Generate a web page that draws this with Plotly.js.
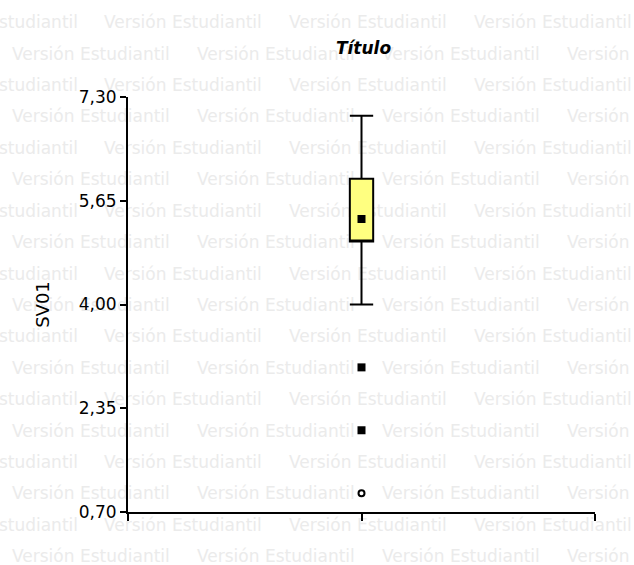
<!DOCTYPE html>
<html>
<head>
<meta charset="utf-8">
<script src="https://cdn.plot.ly/plotly-3.0.1.min.js"></script>
<style>html,body{margin:0;padding:0;background:#fff;}#chart{width:634px;height:565px;}</style>
</head>
<body>
<div id="chart"></div>
<script>
// ---- data ----
const variableName = "SV01";
const boxX = [1];
const q1 = [5.0];
const median = [5.0];
const q3 = [6.0];
const lowerFence = [4.0];
const upperFence = [7.0];
const meanValue = [5.36];
const outlierValues = [3.0, 2.0];
const extremeValues = [1.0];
const yTickVals = [0.70, 2.35, 4.00, 5.65, 7.30];
const xTickVals = [0, 1, 2];
const watermarkText = "Versión Estudiantil";

// ---- watermark (decoration, pixel grid of the whole page) ----
const W = 634, H = 565;
const wmWidth = 159;
const wmX = [], wmY = [], wmT = [], wmPos = [];
for (let r = 0; r < 18; r++) {
  const py = 24 + 31.41 * r;
  const start = (r % 2 === 0) ? -81 : 12;
  for (let c = 0; c < 5; c++) {
    const px = start + 185 * c;
    if (px > W) continue;
    if (px < 0) { wmX.push(px + wmWidth); wmPos.push('middle left'); }
    else { wmX.push(px); wmPos.push('middle right'); }
    wmY.push(Math.min(py, H - 1)); wmT.push(watermarkText);
  }
}

const traces = [
  {
    type: 'scatter', mode: 'text', x: wmX, y: wmY, text: wmT,
    textposition: wmPos, cliponaxis: false, hoverinfo: 'skip',
    textfont: {family: 'DejaVu Sans', size: 17, color: '#ebebeb'},
    xaxis: 'x', yaxis: 'y', showlegend: false
  },
  {
    type: 'box', x: boxX, q1: q1, median: median, q3: q3,
    lowerfence: lowerFence, upperfence: upperFence,
    width: 0.1, whiskerwidth: 1,
    fillcolor: '#ffff80', line: {color: '#000000', width: 2},
    xaxis: 'x2', yaxis: 'y2', showlegend: false, hoverinfo: 'skip'
  },
  {
    type: 'scatter', mode: 'markers', x: boxX, y: meanValue,
    marker: {symbol: 'square', size: 8, color: '#000000'},
    xaxis: 'x2', yaxis: 'y2', showlegend: false, cliponaxis: false
  },
  {
    type: 'scatter', mode: 'markers', x: outlierValues.map(() => boxX[0]), y: outlierValues,
    marker: {symbol: 'square', size: 8, color: '#000000'},
    xaxis: 'x2', yaxis: 'y2', showlegend: false, cliponaxis: false
  },
  {
    type: 'scatter', mode: 'markers', x: extremeValues.map(() => boxX[0]), y: extremeValues,
    marker: {symbol: 'circle-open', size: 6, color: '#000000', line: {width: 2, color: '#000000'}},
    xaxis: 'x2', yaxis: 'y2', showlegend: false, cliponaxis: false
  }
];

const plotL = 128, plotR = 595, plotT = 97, plotB = 512;
const layout = {
  width: W, height: H,
  margin: {l: 0, r: 0, t: 0, b: 0, pad: 0},
  paper_bgcolor: '#ffffff', plot_bgcolor: 'rgba(0,0,0,0)',
  separators: ',.',
  font: {family: 'DejaVu Sans', color: '#000000'},
  title: {
    text: '<b><i>Título</i></b>',
    font: {family: 'DejaVu Sans', size: 17, color: '#000000'},
    x: ((plotL + plotR) / 2 + 2) / W, xref: 'paper', xanchor: 'center',
    y: 1 - 48 / H, yref: 'container', yanchor: 'middle'
  },
  xaxis: {domain: [0, 1], range: [0, W], visible: false, fixedrange: true},
  yaxis: {domain: [0, 1], range: [H, 0], visible: false, fixedrange: true},
  xaxis2: {
    domain: [plotL / W, plotR / W], anchor: 'y2', range: [0, 2],
    tickvals: xTickVals, showticklabels: false,
    ticks: 'outside', ticklen: 7, tickwidth: 2, tickcolor: '#000000',
    showline: true, linewidth: 2, linecolor: '#000000',
    showgrid: false, zeroline: false
  },
  yaxis2: {
    domain: [1 - plotB / H, 1 - plotT / H], anchor: 'x2', side: 'left', range: [0.70, 7.30],
    tickvals: yTickVals, tickformat: '.2f',
    ticks: 'outside', ticklen: 6, tickwidth: 2, tickcolor: '#000000',
    tickfont: {family: 'DejaVu Sans', size: 17, color: '#000000'},
    showline: true, linewidth: 2, linecolor: '#000000',
    showgrid: false, zeroline: false,
    title: {text: variableName, standoff: 24, font: {family: 'DejaVu Sans', size: 18, color: '#000000'}}
  }
};

Plotly.newPlot('chart', traces, layout, {displayModeBar: false, staticPlot: true});
</script>
</body>
</html>
